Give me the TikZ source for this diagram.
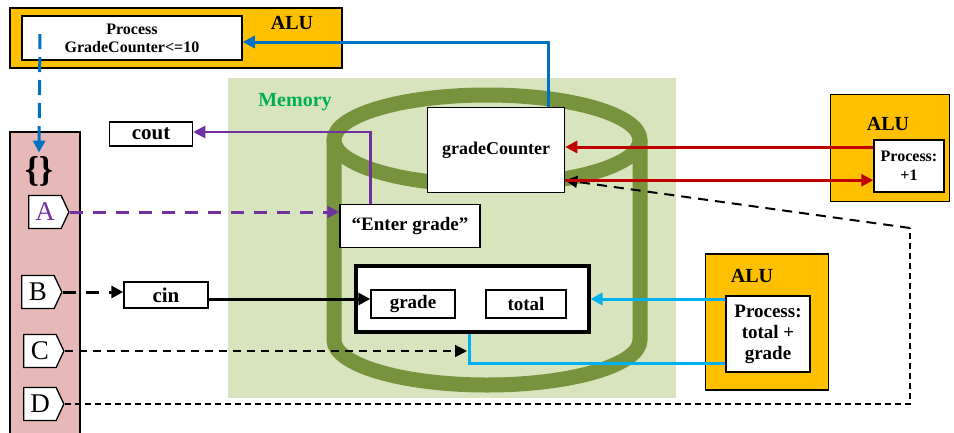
\documentclass[tikz,border=0pt]{standalone}
\usepackage{fontspec}
\setmainfont{Liberation Serif}
\usetikzlibrary{shapes,arrows.meta,positioning}

\definecolor{aluorange}{HTML}{FFC000}
\definecolor{memfill}{HTML}{D7E4BD}
\definecolor{memtext}{HTML}{00B050}
\definecolor{cylgreen}{HTML}{77933C}
\definecolor{pinkcol}{HTML}{E6B9B8}
\definecolor{ctlblue}{HTML}{0070C0}
\definecolor{addcyan}{HTML}{00B0F0}
\definecolor{incred}{HTML}{C00000}
\definecolor{iopurple}{HTML}{7030A0}

\begin{document}
\begin{tikzpicture}[x=1pt,y=-1pt,>={Triangle[length=12pt,width=12pt]},font=\bfseries]
\tikzstyle{alu} = [rectangle, draw, line width=1.5pt, fill=aluorange, inner sep=0pt]
\tikzstyle{cell} = [rectangle, draw, line width=1.5pt, fill=white, inner sep=0pt, align=center]
\tikzstyle{alulabel} = [font=\fontsize{20}{20}\selectfont\bfseries]
\tikzstyle{tag} = [signal, signal to=east, signal pointer angle=130, draw, line width=1.3pt,
                   fill=white, inner sep=0pt, minimum width=40pt, minimum height=33pt,
                   font=\fontsize{27}{27}\selectfont]
\useasboundingbox (0,0) rectangle (954,432);

% memory and the cylinder
\fill[memfill] (228,78) rectangle (676,398);
\node[text=memtext, font=\fontsize{20}{20}\selectfont\bfseries] (memlbl) at (295,102) {Memory};
\draw[line width=15pt, cylgreen] (487,140) ellipse [x radius=153, y radius=45];
\draw[line width=15pt, cylgreen] (334,140) -- (334,340)
      arc[start angle=180, end angle=0, x radius=153, y radius=45] -- (640,140);

% control column
\draw[fill=pinkcol, line width=1.3pt] (10,132) rectangle (80,450);
\node[font=\fontsize{36}{36}\selectfont\bfseries] (braces) at (39,171) {\{\}};
\node[tag, text=iopurple] (A) at (45,212) {A};
\node[tag] (B) at (38,292) {B};
\node[tag] (C) at (40,351) {C};
\node[tag] (D) at (40,404) {D};

% ALUs
\node[alu, minimum width=332pt, minimum height=60pt] (alu1) at (176,38) {};
\node[alulabel] at (292,23) {ALU};
\node[cell, minimum width=220pt, minimum height=44pt, font=\fontsize{16}{18}\selectfont\bfseries]
     (proc1) at (132,38) {Process\\GradeCounter<=10};
\node[alu, minimum width=119pt, minimum height=107pt] (alu2) at (890,148) {};
\node[alulabel] at (888,124) {ALU};
\node[cell, minimum width=70pt, minimum height=52pt, font=\fontsize{16}{19}\selectfont\bfseries]
     (proc2) at (909,166) {Process:\\+1};
\node[alu, minimum width=123pt, minimum height=136pt] (alu3) at (767,322) {};
\node[alulabel] at (752,276) {ALU};
\node[cell, minimum width=84pt, minimum height=76pt, font=\fontsize{19}{21}\selectfont\bfseries]
     (proc3) at (768,334) {Process:\\total +\\grade};

% storage cells
\node[cell, minimum width=137pt, minimum height=85pt, font=\fontsize{18}{18}\selectfont\bfseries]
     (gc) at (496,150) {gradeCounter};
\node[cell, minimum width=140pt, minimum height=43pt, font=\fontsize{19}{19}\selectfont\bfseries]
     (enter) at (410,226) {“Enter grade”};
\node[cell, line width=4pt, minimum width=233pt, minimum height=66pt] (store) at (472,299) {};
\node[cell, minimum width=84pt, minimum height=28pt, font=\fontsize{19}{19}\selectfont\bfseries]
     (grade) at (413,304) {grade};
\node[cell, minimum width=80pt, minimum height=28pt, font=\fontsize{19}{19}\selectfont\bfseries]
     (total) at (526,304) {total};
\node[cell, minimum width=83pt, minimum height=24pt, font=\fontsize{21}{21}\selectfont\bfseries]
     (cout) at (151,134) {cout};
\node[cell, minimum width=84pt, minimum height=26pt, font=\fontsize{21}{21}\selectfont\bfseries]
     (cin) at (166,295) {cin};

\coordinate (gcport) at ([yshift=13pt]gc.south east);
\coordinate (turn) at (910,228);
\coordinate (cend) at (467,353);

% connectors
\draw[->, ctlblue, line width=3pt] ([xshift=-17pt]gc.north east) |- ([yshift=-4pt]proc1.east);
\draw[->, ctlblue, line width=3pt, dash pattern=on 15pt off 8pt] (40,34) -- (braces.north);
\draw[->, iopurple, line width=3pt, dash pattern=on 13pt off 10pt] (A.east) -- (A.east -| enter.west);
\draw[->, iopurple, line width=2.5pt] ([xshift=31pt]enter.north west) |- ([yshift=2pt]cout.east);
\draw[->, line width=3pt, dash pattern=on 13pt off 10pt] (B.east) -- (B.east -| cin.west);
\draw[->, line width=3pt] ([yshift=-4pt]cin.east) -- ([yshift=-4pt]cin.east -| grade.west);
\draw[->, line width=2pt, dash pattern=on 8pt off 6pt] (C.east) -- (C.east -| cend);
\draw[line width=1.5pt, dash pattern=on 6pt off 4pt] (D.east) -| (turn);
\draw[->, line width=2pt, dash pattern=on 10pt off 7pt] (turn) -- (gcport);
\draw[->, incred, line width=3pt] (proc2.west |- 0,147) -- (gc.east |- 0,147);
\draw[->, incred, line width=3pt] (gcport) -- (gcport -| proc2.west);
\draw[->, addcyan, line width=3pt] (proc3.west |- store.east) -- (store.east);
\draw[addcyan, line width=3pt] (proc3.west |- 0,363) -| ([xshift=-3pt]store.south);
\end{tikzpicture}
\end{document}
